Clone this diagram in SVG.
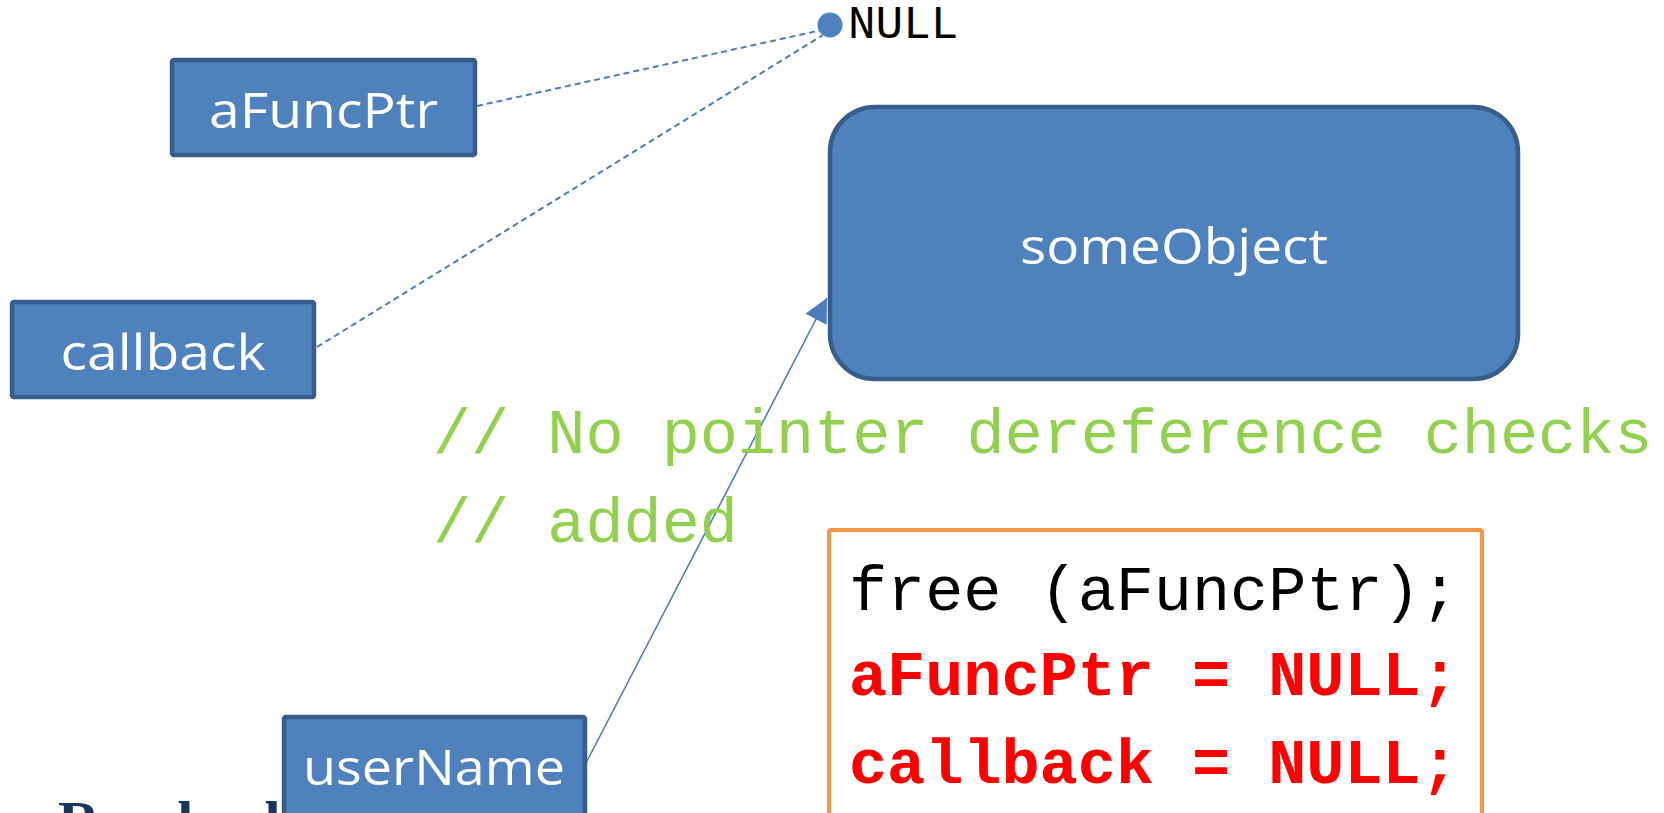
<svg xmlns="http://www.w3.org/2000/svg" width="1664" height="813" viewBox="0 0 1664 813">
  <defs>
    <style>
      .node rect { fill: #4F81BD; stroke: #385D8A; stroke-width: 4.5; }
      .node text { fill: #FFFFFF; font-family: "Open Sans", "Liberation Sans", sans-serif; font-size: 50px; text-anchor: middle; }
      .dash { fill: none; stroke: #4A7EBB; stroke-width: 2; stroke-dasharray: 6 4; }
      .link { fill: none; stroke: #4A7EBB; stroke-width: 1.6; }
      .mono { font-family: "Liberation Mono", "DejaVu Sans Mono", monospace; font-size: 63.5px; }
      .comment { fill: #92D050; }
      .code { fill: #000000; }
      .hot { fill: #FF0000; font-weight: bold; }
    </style>
    <marker id="arrow" markerUnits="userSpaceOnUse" markerWidth="26" markerHeight="26" refX="24" refY="12" orient="auto">
      <path d="M0,0 L24,12 L0,24 z" fill="#4A7EBB"/>
    </marker>
  </defs>
  <rect x="0" y="0" width="1664" height="813" fill="#FFFFFF"/>

  <text id="title" x="58" y="841" font-family="Liberation Serif, serif" font-weight="bold" font-size="58" fill="#17375E">Resolved</text>

  <g id="connectors">
    <line class="dash" x1="477" y1="106" x2="822" y2="30"/>
    <line class="dash" x1="317" y1="347" x2="823" y2="35"/>
    <line class="link" x1="586" y1="763" x2="827" y2="298" marker-end="url(#arrow)"/>
  </g>

  <g id="null">
    <circle cx="830" cy="25" r="12.5" fill="#4F81BD"/>
    <text x="848" y="37.5" font-family="Liberation Mono, monospace" font-size="46" fill="#000000">NULL</text>
  </g>

  <g id="aFuncPtr" class="node">
    <rect x="172" y="60" width="303" height="95" rx="2"/>
    <text x="323.5" y="128" textLength="229" lengthAdjust="spacingAndGlyphs">aFuncPtr</text>
  </g>

  <g id="callback" class="node">
    <rect x="12" y="302" width="302" height="95" rx="2"/>
    <text x="163" y="370" textLength="205" lengthAdjust="spacingAndGlyphs">callback</text>
  </g>

  <g id="userName" class="node">
    <rect x="284" y="717" width="301" height="100" rx="2"/>
    <text x="434" y="785" textLength="262" lengthAdjust="spacingAndGlyphs">userName</text>
  </g>

  <g id="someObject" class="node">
    <rect x="830" y="107" width="688" height="272" rx="45"/>
    <text x="1174" y="264" textLength="308" lengthAdjust="spacingAndGlyphs">someObject</text>
  </g>

  <g id="comment" class="mono comment">
    <text x="433" y="453">// No pointer dereference checks</text>
    <text x="433" y="542">// added</text>
  </g>

  <g id="codebox">
    <rect x="829" y="530" width="653" height="320" rx="2" fill="#FFFFFF" stroke="#F79646" stroke-width="4"/>
    <text class="mono code" x="849" y="610">free (aFuncPtr);</text>
    <text class="mono hot" x="849" y="695">aFuncPtr = NULL;</text>
    <text class="mono hot" x="849" y="783">callback = NULL;</text>
  </g>
</svg>
